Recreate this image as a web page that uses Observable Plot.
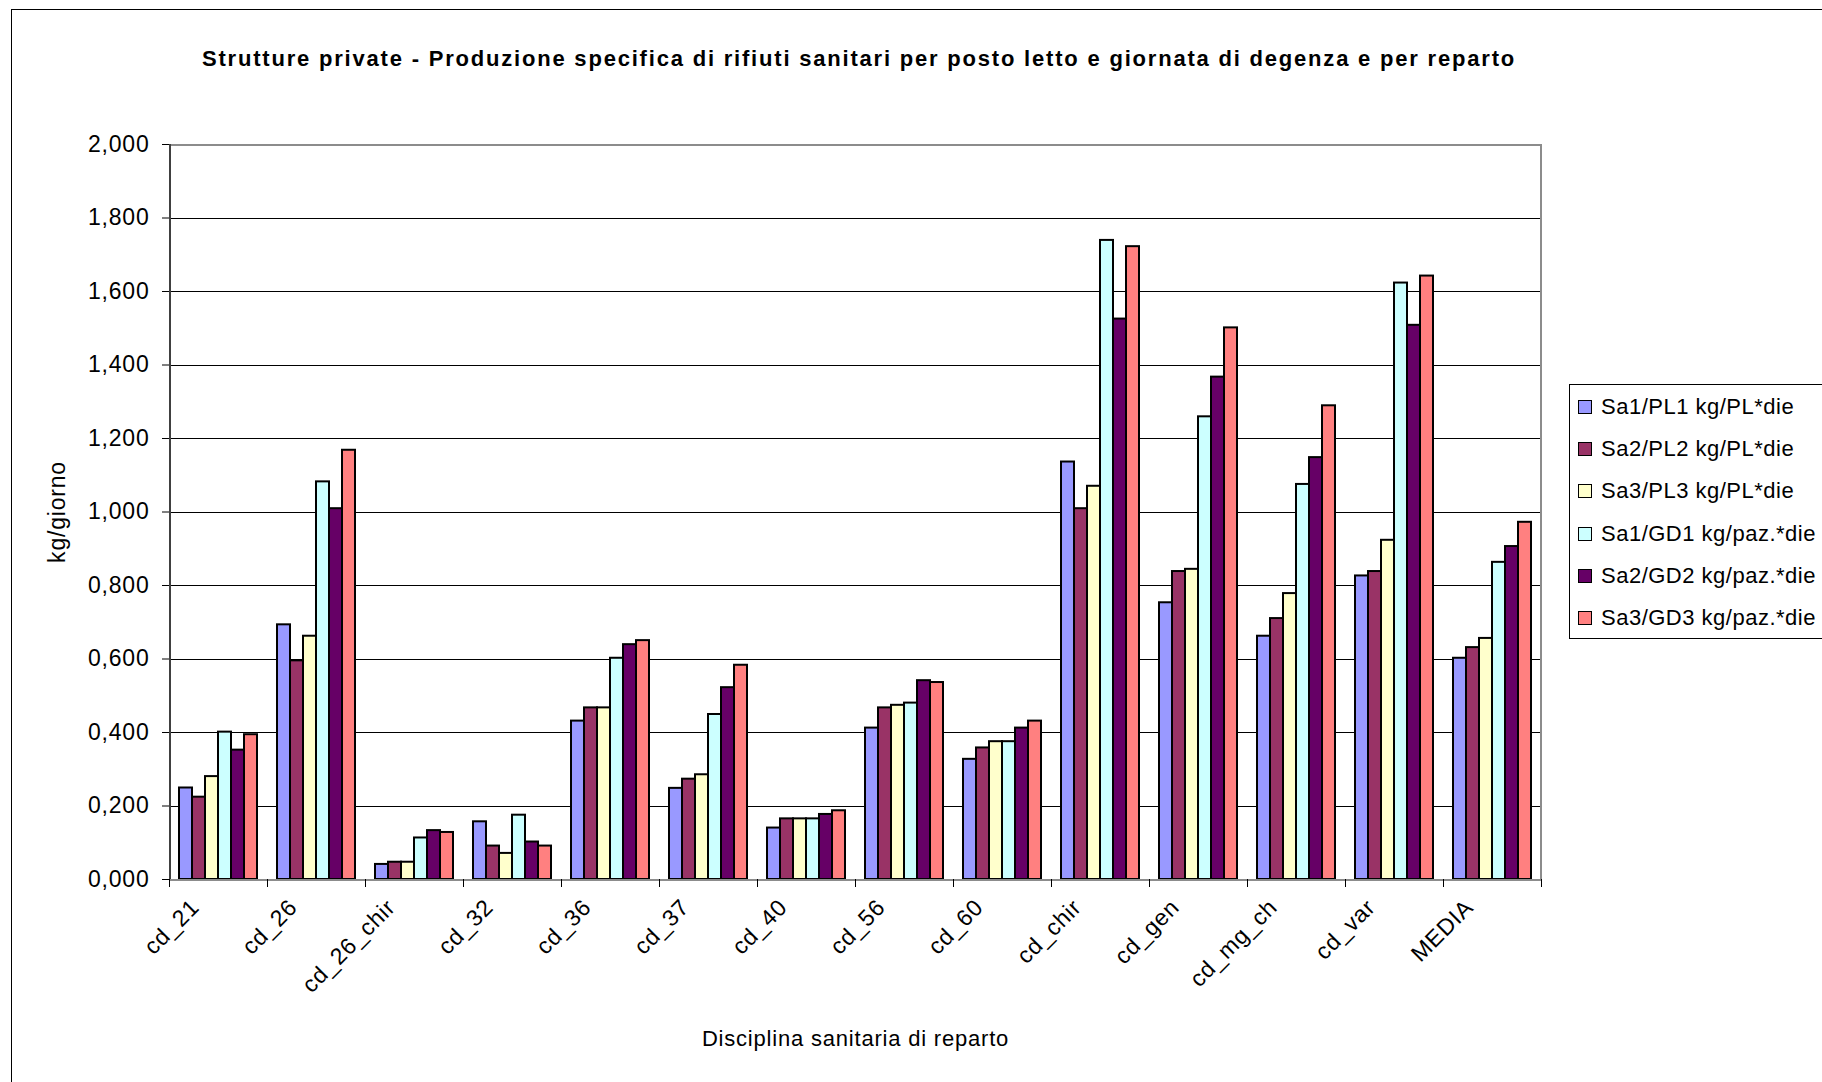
<!DOCTYPE html>
<html>
<head>
<meta charset="utf-8">
<script src="https://cdn.jsdelivr.net/npm/d3@7"></script>
<script src="https://cdn.jsdelivr.net/npm/@observablehq/plot@0.6"></script>
<style>
  body { margin: 0; background: #fff; font-family: "Liberation Sans", Arial, sans-serif; }
  #chart { position: relative; width: 1822px; height: 1082px; overflow: hidden; background: #fff; }
  #border { position: absolute; left: 11px; top: 9px; width: 2000px; height: 2000px;
            border-left: 1px solid #000; border-top: 1px solid #000; }
  #title { position: absolute; left: 0; top: 46px; width: 1718px; text-align: center;
           font-weight: bold; font-size: 22px; letter-spacing: 1.8px; color: #000; }
  #plot { position: absolute; left: 0; top: 100px; }
  #legend { position: absolute; left: 1569px; top: 384px; width: 300px; height: 253px;
            border: 1px solid #000; background: #fff; }
  .item { position: absolute; left: 0; height: 30px; display: flex; align-items: center;
          font-size: 22px; letter-spacing: 0.5px; white-space: nowrap; }
  .swatch { width: 12px; height: 12px; border: 1px solid #000; margin-left: 8px; margin-right: 9px; }
</style>
</head>
<body>
<div id="chart">
  <div id="border"></div>
  <div id="title">Strutture private - Produzione specifica di rifiuti sanitari per posto letto e giornata di degenza e per reparto</div>
  <div id="plot"></div>
  <div id="legend"></div>
</div>
<script>
// Reparti (categories along the horizontal axis)
const categories = ["cd_21", "cd_26", "cd_26_chir", "cd_32", "cd_36", "cd_37", "cd_40",
                    "cd_56", "cd_60", "cd_chir", "cd_gen", "cd_mg_ch", "cd_var", "MEDIA"];

// Series names and fills
const seriesNames = ["Sa1/PL1 kg/PL*die", "Sa2/PL2 kg/PL*die", "Sa3/PL3 kg/PL*die",
                     "Sa1/GD1 kg/paz.*die", "Sa2/GD2 kg/paz.*die", "Sa3/GD3 kg/paz.*die"];
const seriesColors = ["#9999FF", "#993366", "#FFFFCC", "#CCFFFF", "#660066", "#FF8080"];

// kg/giorno per reparto, one array per series
const sa1PL = [0.249, 0.693, 0.041, 0.157, 0.431, 0.248, 0.140, 0.412, 0.327, 1.136, 0.753, 0.662, 0.826, 0.602];
const sa2PL = [0.224, 0.595, 0.047, 0.091, 0.467, 0.273, 0.165, 0.467, 0.358, 1.009, 0.838, 0.710, 0.838, 0.631];
const sa3PL = [0.280, 0.662, 0.047, 0.071, 0.467, 0.285, 0.165, 0.474, 0.375, 1.070, 0.844, 0.778, 0.923, 0.656];
const sa1GD = [0.401, 1.082, 0.113, 0.175, 0.602, 0.449, 0.165, 0.480, 0.375, 1.739, 1.259, 1.075, 1.623, 0.863];
const sa2GD = [0.352, 1.009, 0.133, 0.102, 0.639, 0.522, 0.177, 0.541, 0.412, 1.525, 1.367, 1.148, 1.508, 0.906];
const sa3GD = [0.394, 1.168, 0.128, 0.091, 0.650, 0.583, 0.187, 0.536, 0.431, 1.722, 1.501, 1.289, 1.642, 0.972];

// Value-axis ticks
const yTicks = [0, 0.2, 0.4, 0.6, 0.8, 1.0, 1.2, 1.4, 1.6, 1.8, 2.0];

const seriesValues = [sa1PL, sa2PL, sa3PL, sa1GD, sa2GD, sa3GD];
const rows = categories.flatMap((cat, i) =>
  seriesNames.map((series, j) => ({cat, series, value: seriesValues[j][i]})));

const it = d3.formatLocale({decimal: ",", thousands: ".", grouping: [3], currency: ["€", ""]});
const fmt = it.format(".3f");

// Layout
const W = 1560, H = 982, mL = 166, mR = 16, mT = 44, mB = 203;
const step = (W - mL - mR) / categories.length;   // width of one reparto
const bw = step / 7.5;                             // six bars + gap of 1.5 bar widths

const first = [{cat: categories[0], series: seriesNames[0]}];
const last = [{cat: categories[categories.length - 1], series: seriesNames[seriesNames.length - 1]}];
const leftEdges = categories.map(cat => ({cat, series: seriesNames[0]}));
const crisp = {shapeRendering: "crispEdges"};

const chart = Plot.plot({
  width: W, height: H,
  marginLeft: mL, marginRight: mR, marginTop: mT, marginBottom: mB,
  style: {fontFamily: "Liberation Sans, Arial, sans-serif", fontSize: "22px", letterSpacing: "0.8px", color: "#000", background: "transparent"},
  fx: {domain: categories, padding: 0},
  x: {domain: seriesNames, paddingInner: 0, paddingOuter: 0.75, axis: null},
  y: {domain: [0, 2]},
  color: {domain: seriesNames, range: seriesColors},
  marks: [
    Plot.ruleY(yTicks, {stroke: "#000", strokeWidth: 1, ...crisp}),
    Plot.barY(rows, {fx: "cat", x: "series", y: "value", fill: "series", stroke: "#000", strokeWidth: 2}),
    Plot.ruleY([2], {stroke: "#8c8c8c", strokeWidth: 2, ...crisp}),
    Plot.ruleY([0], {stroke: "#8c8c8c", strokeWidth: 2, ...crisp}),
    // reparto boundary ticks below the axis
    Plot.ruleX(leftEdges, {fx: "cat", x: "series", y1: 0, y2: 0, insetTop: 8, dx: -1.25 * bw, stroke: "#000", ...crisp}),
    Plot.ruleX(last, {fx: "cat", x: "series", y1: 0, y2: 0, insetTop: 8, dx: 1.25 * bw, stroke: "#000", ...crisp}),
    // plot-area border: right edge and value axis line
    Plot.ruleX(last, {fx: "cat", x: "series", dx: 1.25 * bw, stroke: "#8c8c8c", strokeWidth: 2, ...crisp}),
    Plot.ruleX(first, {fx: "cat", x: "series", dx: -1.25 * bw, stroke: "#404040", strokeWidth: 2, ...crisp}),
    // axes
    Plot.axisY({ticks: yTicks, tickFormat: fmt, tickSize: 7, tickPadding: 13, fontSize: 23,
                label: "kg/giorno", labelAnchor: "center", labelOffset: 121, labelArrow: "none"}),
    Plot.axisFx({anchor: "bottom", tickRotate: -45, tickSize: 0, tickPadding: 24, dx: -23, fontSize: 23, label: null}),
    Plot.axisFx({anchor: "bottom", ticks: [], tickSize: 0, label: "Disciplina sanitaria di reparto",
                 labelAnchor: "center", labelOffset: 166, labelArrow: "none"})
  ]
});
document.getElementById("plot").appendChild(chart);

// Legend
const legend = document.getElementById("legend");
seriesNames.forEach((name, j) => {
  const item = document.createElement("div");
  item.className = "item";
  item.style.top = (7 + j * 42.2) + "px";
  const sw = document.createElement("div");
  sw.className = "swatch";
  sw.style.background = seriesColors[j];
  item.appendChild(sw);
  item.appendChild(document.createTextNode(name));
  legend.appendChild(item);
});
</script>
</body>
</html>
